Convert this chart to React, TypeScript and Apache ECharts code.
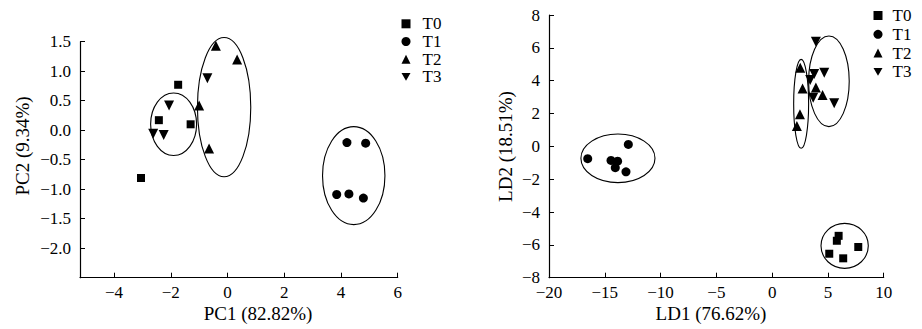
import React, { useEffect, useRef } from "react";
import * as echarts from "echarts";

const FONT = "Liberation Serif, Times New Roman, serif";

const groupNames = ["T0", "T1", "T2", "T3"];

// PCA panel (left)
const pcaT0 = [[-1.74, 0.77], [-2.42, 0.17], [-1.3, 0.1], [-3.05, -0.81]];
const pcaT1 = [[4.21, -0.21], [4.87, -0.22], [3.85, -1.09], [4.28, -1.08], [4.79, -1.15]];
const pcaT2 = [[-0.41, 1.43], [0.34, 1.2], [-1.0, 0.42], [-0.65, -0.31]];
const pcaT3 = [[-0.71, 0.88], [-2.06, 0.42], [-2.62, -0.06], [-2.25, -0.08]];
// [centerX, centerY, radiusX, radiusY]
const pcaEllipses = [[-1.9, 0.1, 0.81, 0.53], [-0.12, 0.39, 0.94, 1.18], [4.45, -0.77, 1.1, 0.83]];
const pcaXTicks = [-4, -2, 0, 2, 4, 6];

// LDA panel (right)
const ldaT0 = [[5.96, -5.45], [5.8, -5.75], [5.12, -6.54], [6.37, -6.82], [7.72, -6.13]];
const ldaT1 = [[-16.53, -0.75], [-14.44, -0.86], [-13.85, -0.9], [-14.06, -1.3], [-13.1, -1.55], [-12.89, 0.12]];
const ldaT2 = [[2.52, 4.79], [2.73, 3.53], [2.49, 1.95], [2.22, 1.24], [3.92, 3.59], [4.52, 3.12]];
const ldaT3 = [[3.92, 6.37], [4.67, 4.48], [3.77, 4.4], [3.41, 4.04], [3.68, 2.96], [5.56, 2.62]];
const ldaEllipses = [[-13.82, -0.73, 3.32, 1.48], [2.6, 2.59, 0.67, 2.71], [5.09, 3.96, 1.82, 2.76], [6.5, -6.06, 2.12, 1.37]];

const minus = (s: string) => s.replace("-", "\u2212");

const symbols: Record<string, { symbol: string; size: number }> = {
  T0: { symbol: "rect", size: 8 },
  T1: { symbol: "circle", size: 9 },
  T2: { symbol: "triangle", size: 10 },
  T3: { symbol: "path://M0,0L10,0L5,8.7Z", size: 10 },
};

function scatter(name: string, data: number[][], idx: number) {
  return {
    type: "scatter",
    name,
    xAxisIndex: idx,
    yAxisIndex: idx,
    data,
    symbol: symbols[name].symbol,
    symbolSize: symbols[name].size,
    itemStyle: { color: "#000", opacity: 1 },
  };
}

function ellipses(data: number[][], idx: number) {
  return {
    type: "custom",
    xAxisIndex: idx,
    yAxisIndex: idx,
    data,
    silent: true,
    renderItem: (params: any, api: any) => {
      const c = api.coord([api.value(0), api.value(1)]);
      const s = api.size([api.value(2), api.value(3)]);
      return {
        type: "ellipse",
        shape: { cx: c[0], cy: c[1], rx: s[0], ry: s[1] },
        style: { fill: "none", stroke: "#000", lineWidth: 1.1 },
      };
    },
  };
}

const labelStyle = { fontSize: 17, fontFamily: FONT, color: "#000" };
const lineStyle = { color: "#000", width: 1.2 };

function axisBase() {
  return {
    type: "value",
    axisLine: { show: true, onZero: false, lineStyle },
    splitLine: { show: false },
  };
}

function title(text: string, x: number, y: number, rotate: boolean) {
  return {
    type: "text",
    x,
    y,
    rotation: rotate ? Math.PI / 2 : 0,
    style: {
      text,
      fontSize: 19,
      fontFamily: FONT,
      fill: "#000",
      align: "center",
      verticalAlign: "middle",
    },
  };
}

export default function App() {
  const ref = useRef<HTMLDivElement>(null);
  useEffect(() => {
    if (!ref.current) return;
    const chart = echarts.init(ref.current, undefined, { renderer: "svg" });
    const legendBase = {
      data: groupNames,
      orient: "vertical",
      itemWidth: 9,
      itemHeight: 9,
      padding: 0,
      selectedMode: false,
    };
    chart.setOption({
      animation: false,
      backgroundColor: "#fff",
      grid: [
        { left: 80, top: 41.7, width: 317.7, height: 236 },
        { left: 549, top: 15, width: 334.7, height: 262.7 },
      ],
      xAxis: [
        {
          ...axisBase(),
          gridIndex: 0,
          min: -5.2,
          max: 6,
          axisTick: { show: true, inside: true, length: 5, customValues: pcaXTicks, lineStyle: { color: "#000" } },
          axisLabel: { ...labelStyle, margin: 6, customValues: pcaXTicks, formatter: (v: number) => minus(String(v)) },
        },
        {
          ...axisBase(),
          gridIndex: 1,
          min: -20,
          max: 10,
          interval: 5,
          axisTick: { show: true, inside: true, length: 5, lineStyle: { color: "#000" } },
          axisLabel: { ...labelStyle, margin: 6, formatter: (v: number) => minus(String(v)) },
        },
      ],
      yAxis: [
        {
          ...axisBase(),
          gridIndex: 0,
          min: -2.5,
          max: 1.5,
          interval: 0.5,
          axisTick: { show: true, inside: true, length: 5, lineStyle: { color: "#000" } },
          axisLabel: {
            ...labelStyle,
            margin: 9,
            formatter: (v: number) => (v <= -2.5 ? "" : minus(v.toFixed(1))),
          },
        },
        {
          ...axisBase(),
          gridIndex: 1,
          min: -8,
          max: 8,
          interval: 2,
          axisTick: { show: true, inside: true, length: 5, lineStyle: { color: "#000" } },
          axisLabel: { ...labelStyle, margin: 9, formatter: (v: number) => minus(String(v)) },
        },
      ],
      legend: [
        {
          ...legendBase,
          left: 401.5,
          top: 15.3,
          itemGap: 0.7,
          textStyle: { ...labelStyle, lineHeight: 16, padding: [0, 0, 0, 7] },
        },
        {
          ...legendBase,
          left: 873.5,
          top: 7,
          itemGap: 1.8,
          textStyle: { ...labelStyle, lineHeight: 16, padding: [0, 0, 0, 5] },
        },
      ],
      graphic: [
        title("PC1 (82.82%)", 258, 313, false),
        title("PC2 (9.34%)", 22.5, 146, true),
        title("LD1 (76.62%)", 711, 313, false),
        title("LD2 (18.51%)", 505, 146.5, true),
      ],
      series: [
        ellipses(pcaEllipses, 0),
        scatter("T0", pcaT0, 0),
        scatter("T1", pcaT1, 0),
        scatter("T2", pcaT2, 0),
        scatter("T3", pcaT3, 0),
        ellipses(ldaEllipses, 1),
        scatter("T0", ldaT0, 1),
        scatter("T1", ldaT1, 1),
        scatter("T2", ldaT2, 1),
        scatter("T3", ldaT3, 1),
      ],
    });
    return () => chart.dispose();
  }, []);
  return (
    <div
      ref={ref}
      style={{ position: "absolute", left: 0, top: 0, width: 922, height: 329 }}
    />
  );
}
